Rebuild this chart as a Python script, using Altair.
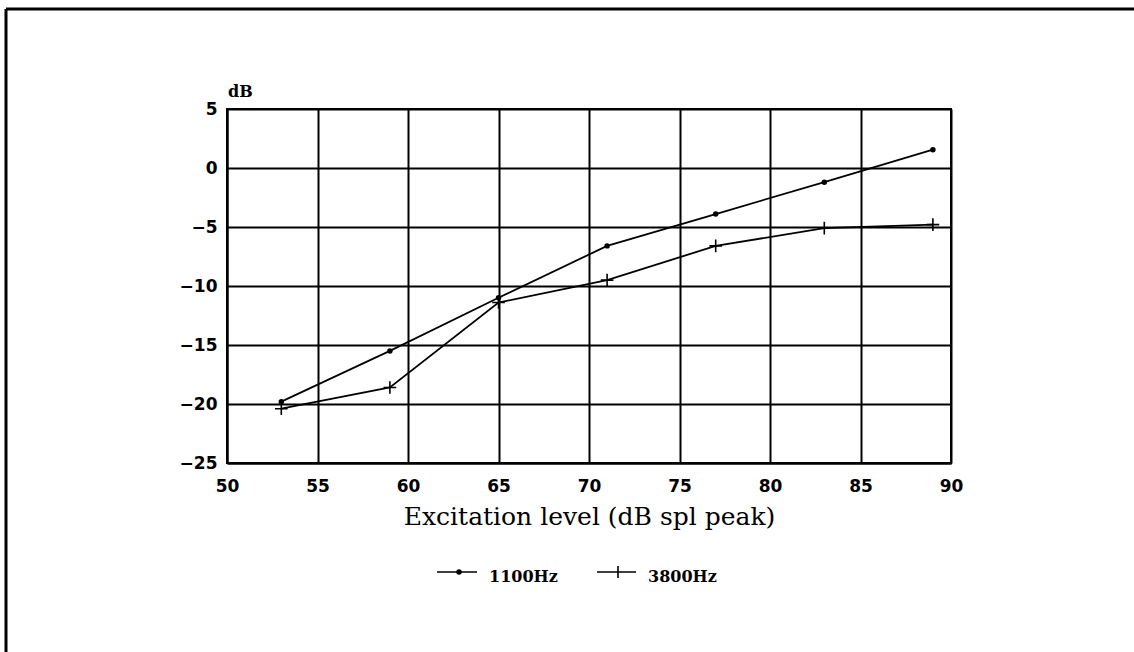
import altair as alt
import pandas as pd

# ---- data ----
levels = [53, 59, 65, 71, 77, 83, 89]
series_names = ["1100Hz", "3800Hz"]
db_1100 = [-19.8, -15.5, -11.0, -6.6, -3.9, -1.2, 1.55]
db_3800 = [-20.4, -18.6, -11.4, -9.5, -6.6, -5.1, -4.8]
x_ticks = [50, 55, 60, 65, 70, 75, 80, 85, 90]
y_ticks = [-25, -20, -15, -10, -5, 0, 5]

W, H = 724, 354
PAD_L, PAD_T = 227, 109

df = pd.DataFrame(
    {
        "level": levels * 2,
        "db": db_1100 + db_3800,
        "series": [series_names[0]] * len(levels) + [series_names[1]] * len(levels),
    }
)

xs = alt.X(
    "level:Q",
    scale=alt.Scale(domain=[50, 90], nice=False, zero=False),
    axis=alt.Axis(values=x_ticks, title="Excitation level (dB spl peak)"),
)
ys = alt.Y(
    "db:Q",
    scale=alt.Scale(domain=[-25, 5], nice=False, zero=False),
    axis=alt.Axis(values=y_ticks, title=None),
)

lines = alt.Chart(df).mark_line(color="black", strokeWidth=1.8).encode(
    x=xs, y=ys, detail="series:N"
)

dots = (
    alt.Chart(df)
    .transform_filter(alt.datum.series == series_names[0])
    .mark_point(shape="circle", filled=True, color="black", size=30, opacity=1)
    .encode(x=xs, y=ys)
)
crosses = (
    alt.Chart(df)
    .transform_filter(alt.datum.series == series_names[1])
    .mark_point(
        shape="M-1,0L1,0M0,-1L0,1", color="black", size=160, strokeWidth=1.6, opacity=1
    )
    .encode(x=xs, y=ys)
)

# ---- legend (manual, below the plot) ----
leg_y = 463
leg_x0 = [210, 370]
leg_df = pd.DataFrame(
    {
        "series": series_names,
        "x1": [leg_x0[0], leg_x0[1]],
        "x2": [leg_x0[0] + 40, leg_x0[1] + 39],
        "xm": [leg_x0[0] + 22, leg_x0[1] + 21],
        "xt": [leg_x0[0] + 52, leg_x0[1] + 51],
    }
)

legend_layers = []
for _, r in leg_df.iterrows():
    legend_layers.append(
        alt.Chart(pd.DataFrame({"a": [0]}))
        .mark_rule(color="black", strokeWidth=1.6)
        .encode(x=alt.value(r.x1), x2=alt.value(r.x2), y=alt.value(leg_y))
    )
    legend_layers.append(
        alt.Chart(pd.DataFrame({"t": [r.series]}))
        .mark_text(
            align="left",
            baseline="middle",
            font="DejaVu Serif",
            fontWeight="bold",
            fontSize=16,
            color="black",
        )
        .encode(x=alt.value(r.xt), y=alt.value(leg_y + 5), text="t:N")
    )
legend_layers.append(
    alt.Chart(pd.DataFrame({"a": [0]}))
    .mark_point(shape="circle", filled=True, color="black", size=30, opacity=1)
    .encode(x=alt.value(leg_df.xm[0]), y=alt.value(leg_y))
)
legend_layers.append(
    alt.Chart(pd.DataFrame({"a": [0]}))
    .mark_point(shape="M0,-1L0,1", color="black", size=150, strokeWidth=1.6, opacity=1)
    .encode(x=alt.value(leg_df.xm[1]), y=alt.value(leg_y))
)

# "dB" unit label above the y axis
db_label = (
    alt.Chart(pd.DataFrame({"t": ["dB"]}))
    .mark_text(
        align="left",
        baseline="middle",
        font="DejaVu Serif",
        fontWeight="bold",
        fontSize=16,
        color="black",
    )
    .encode(x=alt.value(1), y=alt.value(-17), text="t:N")
)

# outer frame (top and left edges of the page border)
frame_top = (
    alt.Chart(pd.DataFrame({"a": [0]}))
    .mark_rule(color="black", strokeWidth=3)
    .encode(x=alt.value(6 - PAD_L), x2=alt.value(1140 - PAD_L), y=alt.value(9 - PAD_T))
)
frame_left = (
    alt.Chart(pd.DataFrame({"a": [0]}))
    .mark_rule(color="black", strokeWidth=3)
    .encode(x=alt.value(6 - PAD_L), y=alt.value(9 - PAD_T), y2=alt.value(660 - PAD_T))
)

chart = (
    alt.layer(lines, dots, crosses, db_label, frame_top, frame_left, *legend_layers)
    .properties(
        width=W,
        height=H,
        autosize=alt.AutoSizeParams(type="none"),
        padding={"left": PAD_L, "top": PAD_T, "right": 1134 - PAD_L - W, "bottom": 652 - PAD_T - H},
        background="white",
    )
    .configure_view(stroke="black", strokeWidth=2)
    .configure_axis(
        grid=True,
        gridColor="black",
        gridWidth=2,
        gridOpacity=1,
        domainColor="black",
        domainWidth=2,
        ticks=False,
        labelFlush=False,
        labelFont="DejaVu Sans",
        labelFontWeight="bold",
        labelFontSize=17,
        labelColor="black",
        titleFont="DejaVu Serif",
        titleFontWeight="normal",
        titleFontSize=25,
        titleColor="black",
    )
    .configure_axisX(labelPadding=15, titlePadding=10)
    .configure_axisY(labelPadding=10)
)

chart.save("out.html", embed_options={"renderer": "svg", "actions": False})
